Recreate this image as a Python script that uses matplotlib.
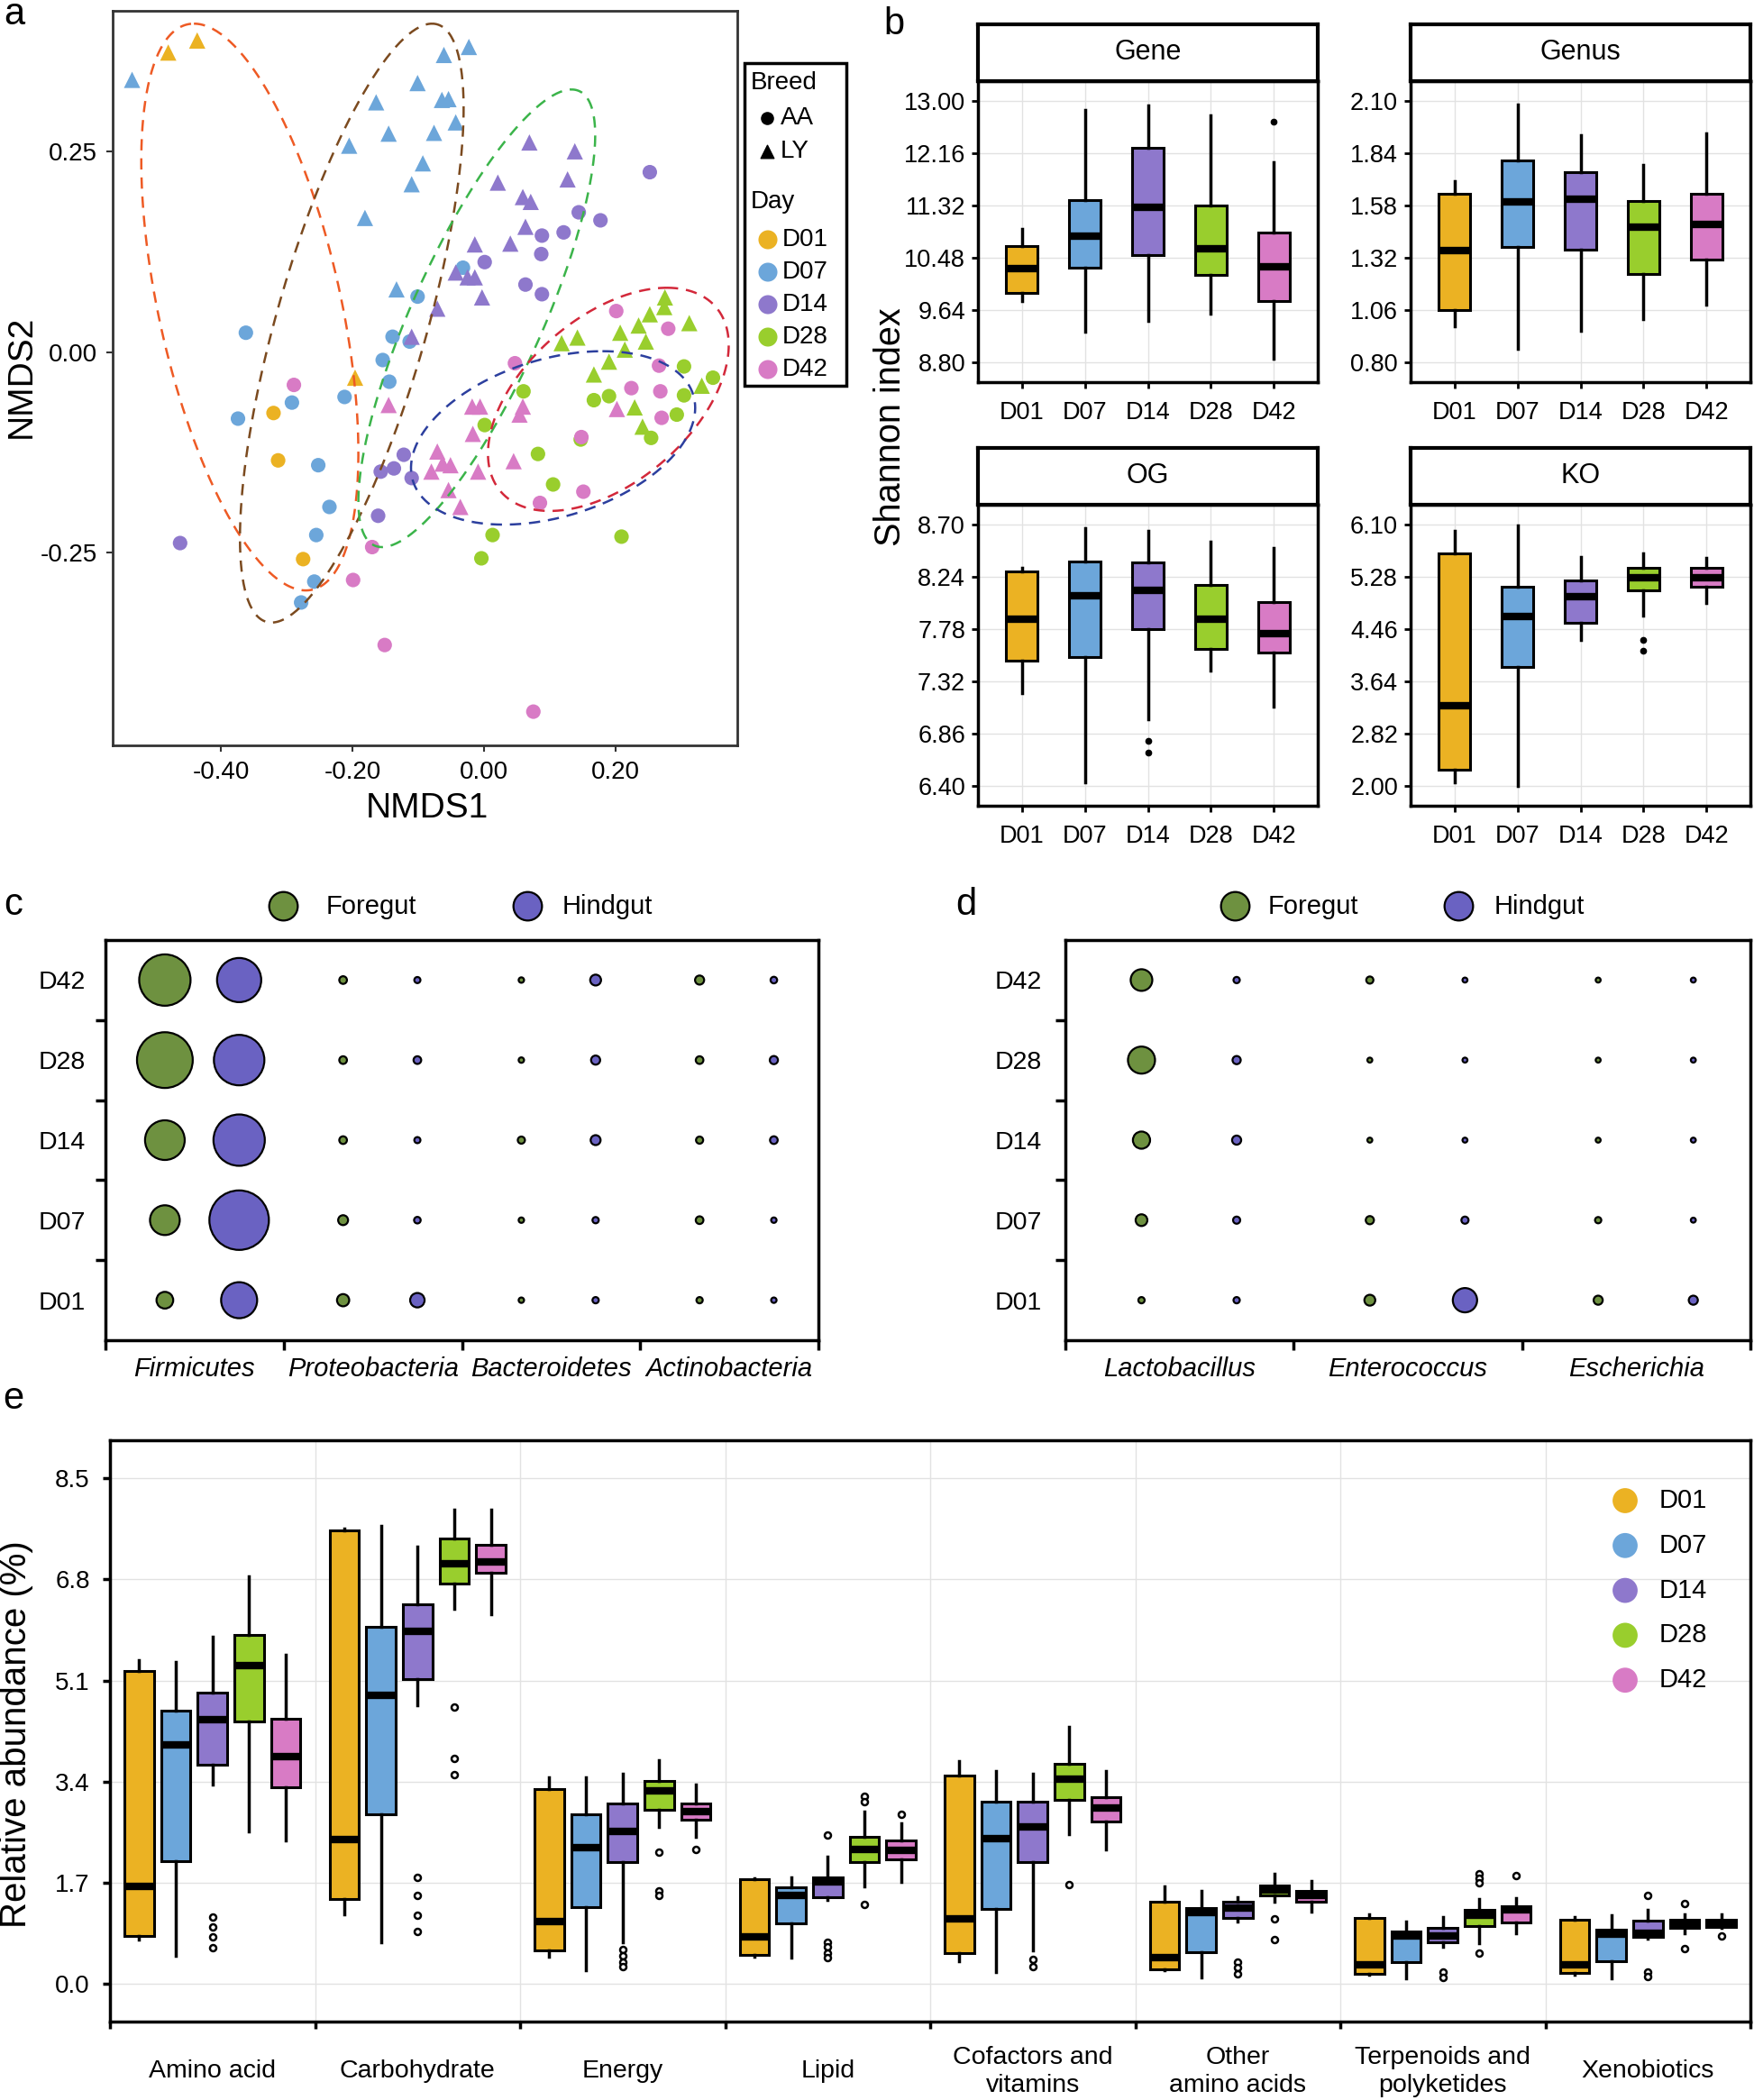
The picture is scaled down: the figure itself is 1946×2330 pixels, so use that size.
import matplotlib
matplotlib.use("Agg")
import matplotlib.pyplot as plt
import numpy as np
from matplotlib.patches import Rectangle

plt.rcParams['font.family'] = ['Liberation Sans', 'DejaVu Sans']

# ---------------- shared ----------------
days = ["D01", "D07", "D14", "D28", "D42"]
day_colors = ["#EBB223", "#6CA6DA", "#8E78CC", "#99CE2D", "#D87BC5"]

# ---------------- a: NMDS ----------------
D01_AA = [(-0.320, -0.076), (-0.313, -0.135), (-0.275, -0.258)]
D01_LY = [(-0.480, 0.373), (-0.436, 0.388), (-0.196, -0.032)]
D07_AA = [(-0.362, 0.024), (-0.374, -0.083), (-0.292, -0.063), (-0.252, -0.141), (-0.235, -0.193),
          (-0.255, -0.228), (-0.258, -0.286), (-0.278, -0.312), (-0.212, -0.056), (-0.154, -0.010),
          (-0.144, -0.037), (-0.139, 0.019), (-0.113, 0.013), (-0.101, 0.069), (-0.032, 0.105)]
D07_LY = [(-0.535, 0.339), (-0.164, 0.311), (-0.145, 0.272), (-0.205, 0.257), (-0.101, 0.335),
          (-0.061, 0.370), (-0.023, 0.380), (-0.064, 0.314), (-0.054, 0.315), (-0.043, 0.286),
          (-0.076, 0.273), (-0.093, 0.235), (-0.110, 0.209), (-0.181, 0.167), (-0.133, 0.078)]
D14_AA = [(0.252, 0.224), (0.144, 0.174), (0.177, 0.164), (0.121, 0.149), (0.088, 0.145),
          (0.087, 0.122), (0.001, 0.112), (0.063, 0.084), (0.088, 0.072), (-0.462, -0.238),
          (-0.161, -0.204), (-0.157, -0.149), (-0.137, -0.145), (-0.122, -0.128), (-0.110, -0.157)]
D14_LY = [(0.069, 0.261), (0.138, 0.250), (0.127, 0.215), (0.021, 0.211), (0.059, 0.193),
          (0.071, 0.187), (0.063, 0.156), (0.040, 0.135), (-0.014, 0.134), (-0.043, 0.099),
          (-0.025, 0.093), (-0.014, 0.093), (-0.003, 0.068), (-0.071, 0.054), (-0.110, 0.019)]
D28_AA = [(0.304, -0.018), (0.348, -0.032), (0.304, -0.054), (0.293, -0.078), (0.254, -0.107),
          (0.190, -0.055), (0.167, -0.060), (0.147, -0.109), (0.082, -0.127), (0.105, -0.165),
          (0.060, -0.049), (0.001, -0.091), (0.013, -0.228), (-0.004, -0.257), (0.209, -0.230)]
D28_LY = [(0.275, 0.068), (0.252, 0.047), (0.274, 0.056), (0.235, 0.033), (0.207, 0.024),
          (0.246, 0.013), (0.312, 0.036), (0.214, 0.003), (0.142, 0.018), (0.118, 0.011),
          (0.190, -0.012), (0.167, -0.028), (0.229, -0.069), (0.241, -0.093), (0.331, -0.042)]
D42_AA = [(0.201, 0.051), (0.280, 0.029), (0.266, -0.017), (0.224, -0.045), (0.268, -0.049),
          (0.270, -0.082), (0.148, -0.106), (0.151, -0.174), (0.085, -0.188), (0.047, -0.014),
          (-0.289, -0.041), (-0.170, -0.243), (-0.199, -0.284), (-0.151, -0.365), (0.075, -0.448)]
D42_LY = [(-0.145, -0.066), (-0.018, -0.068), (-0.006, -0.068), (0.059, -0.068), (0.054, -0.078),
          (-0.017, -0.102), (-0.071, -0.124), (-0.063, -0.139), (-0.051, -0.141), (-0.080, -0.149),
          (-0.009, -0.149), (0.045, -0.136), (-0.054, -0.172), (-0.036, -0.193), (0.202, -0.071)]
aa_groups = [D01_AA, D07_AA, D14_AA, D28_AA, D42_AA]
ly_groups = [D01_LY, D07_LY, D14_LY, D28_LY, D42_LY]

# confidence ellipses: centre, topmost point, half width (NMDS units)
ellipse_colors = ["#EE5A24", "#7B4A1F", "#3BB44A", "#D3283A", "#2C3F9E"]
ellipse_center = [(-0.356, 0.056), (-0.201, 0.036), (-0.011, 0.042), (0.189, -0.059), (0.105, -0.107)]
ellipse_top = [(-0.441, 0.409), (-0.079, 0.409), (0.133, 0.327), (0.278, 0.080), (0.180, 0.001)]
ellipse_halfwidth = [0.165, 0.170, 0.180, 0.183, 0.216]

# ---------------- b: Shannon index (lo, q1, med, q3, hi) ----------------
gene_box = [(9.78, 9.92, 10.31, 10.67, 10.94), (9.29, 10.32, 10.83, 11.41, 12.85),
            (9.47, 10.53, 11.29, 12.24, 12.93), (9.59, 10.21, 10.63, 11.32, 12.77),
            (8.86, 9.78, 10.33, 10.89, 12.02)]
gene_out = [[], [], [], [], [12.67]]
gene_ticks = [8.80, 9.64, 10.48, 11.32, 12.16, 13.00]

genus_box = [(0.981, 1.059, 1.354, 1.639, 1.699), (0.868, 1.372, 1.598, 1.805, 2.080),
             (0.958, 1.360, 1.609, 1.744, 1.927), (1.018, 1.241, 1.473, 1.603, 1.779),
             (1.089, 1.312, 1.485, 1.639, 1.937)]
genus_out = [[], [], [], [], []]
genus_ticks = [0.80, 1.06, 1.32, 1.58, 1.84, 2.10]

og_box = [(7.221, 7.501, 7.868, 8.284, 8.322), (6.435, 7.533, 8.074, 8.375, 8.665),
          (6.989, 7.778, 8.124, 8.367, 8.639), (7.415, 7.607, 7.868, 8.167, 8.545),
          (7.101, 7.575, 7.741, 8.020, 8.492)]
og_out = [[], [], [6.800, 6.696], [], []]
og_ticks = [6.40, 6.86, 7.32, 7.78, 8.24, 8.70]

ko_box = [(2.062, 2.262, 3.264, 5.639, 5.995), (2.000, 3.867, 4.651, 5.121, 6.086),
          (4.295, 4.556, 4.969, 5.221, 5.592), (4.665, 5.069, 5.269, 5.421, 5.644),
          (4.874, 5.121, 5.259, 5.416, 5.577)]
ko_out = [[], [], [], [4.285, 4.119], []]
ko_ticks = [2.00, 2.82, 3.64, 4.46, 5.28, 6.10]

# ---------------- c / d: bubble plots (relative abundance, %) ----------------
phyla = ["Firmicutes", "Proteobacteria", "Bacteroidetes", "Actinobacteria"]
# values in order D01, D07, D14, D28, D42
phyla_foregut = [[7.1, 22.5, 40, 79, 67], [3.8, 2.5, 1.5, 1.5, 1.5],
                 [0.74, 0.74, 1.3, 0.74, 0.74], [1.0, 1.5, 1.3, 1.5, 2.1]]
phyla_hindgut = [[33, 90, 67, 64.7, 49.6], [5.3, 1.1, 0.95, 1.5, 0.95],
                 [1.0, 1.0, 2.5, 2.1, 3.0], [0.74, 0.74, 1.5, 1.7, 1.1]]
genera = ["Lactobacillus", "Enterococcus", "Escherichia"]
genera_foregut = [[1.0, 3.5, 7.5, 18.6, 11.9], [3.0, 1.7, 0.62, 0.62, 1.3], [2.1, 1.0, 0.62, 0.62, 0.62]]
genera_hindgut = [[1.0, 1.3, 2.1, 1.7, 1.0], [15, 1.3, 0.62, 0.62, 0.62], [2.1, 0.62, 0.62, 0.62, 0.62]]
foregut_color = "#6E9140"
hindgut_color = "#6A62C2"

# ---------------- e: KEGG pathways (lo, q1, med, q3, hi) ----------------
pathways = ["Amino acid", "Carbohydrate", "Energy", "Lipid", "Cofactors and\nvitamins",
            "Other\namino acids", "Terpenoids and\npolyketides", "Xenobiotics"]
amino_box = [(0.75, 0.81, 1.64, 5.26, 5.45), (0.47, 2.07, 4.02, 4.59, 5.42), (3.35, 3.69, 4.44, 4.90, 5.84),
             (2.56, 4.42, 5.36, 5.87, 6.86), (2.41, 3.31, 3.83, 4.46, 5.54)]
amino_out = [[], [], [1.13, 0.96, 0.79, 0.61], [], []]
carb_box = [(1.17, 1.43, 2.43, 7.62, 7.65), (0.70, 2.86, 4.86, 6.01, 7.70), (4.68, 5.13, 5.93, 6.39, 7.35),
            (6.30, 6.73, 7.07, 7.49, 7.98), (6.21, 6.91, 7.10, 7.39, 7.98)]
carb_out = [[], [], [1.80, 1.49, 1.15, 0.89], [4.66, 3.80, 3.52], []]
energy_box = [(0.46, 0.56, 1.05, 3.28, 3.48), (0.23, 1.29, 2.29, 2.85, 3.48), (0.71, 2.05, 2.56, 3.03, 3.53),
              (2.64, 2.93, 3.25, 3.41, 3.77), (2.47, 2.76, 2.90, 3.04, 3.35)]
energy_out = [[], [], [0.58, 0.47, 0.37, 0.29], [2.22, 1.57, 1.49], [2.27]]
lipid_box = [(0.46, 0.49, 0.80, 1.76, 1.78), (0.44, 1.02, 1.49, 1.62, 1.80), (1.41, 1.46, 1.72, 1.80, 2.14),
             (1.64, 2.05, 2.26, 2.47, 2.90), (1.72, 2.10, 2.25, 2.41, 2.70)]
lipid_out = [[], [], [2.51, 0.71, 0.62, 0.52, 0.44], [3.16, 3.06, 1.34], [2.86]]
cofac_box = [(0.39, 0.52, 1.09, 3.50, 3.74), (0.21, 1.27, 2.44, 3.06, 3.58), (0.57, 2.05, 2.64, 3.06, 3.54),
             (2.52, 3.10, 3.45, 3.70, 4.32), (2.26, 2.73, 2.96, 3.14, 3.58)]
cofac_out = [[], [], [0.42, 0.29], [1.67], []]
other_box = [(0.23, 0.25, 0.44, 1.39, 1.64), (0.11, 0.54, 1.21, 1.28, 1.57), (1.05, 1.11, 1.28, 1.38, 1.46),
             (1.38, 1.49, 1.58, 1.66, 1.86), (1.22, 1.38, 1.49, 1.57, 1.74)]
other_out = [[], [], [0.37, 0.28, 0.18], [1.09, 0.75], []]
terp_box = [(0.16, 0.18, 0.33, 1.11, 1.17), (0.10, 0.37, 0.81, 0.89, 1.05), (0.63, 0.71, 0.81, 0.94, 1.13),
            (0.69, 0.97, 1.15, 1.25, 1.43), (0.86, 1.03, 1.25, 1.31, 1.44)]
terp_out = [[], [], [0.21, 0.11], [1.86, 1.78, 1.70, 0.52], [1.82]]
xeno_box = [(0.16, 0.19, 0.33, 1.08, 1.13), (0.10, 0.39, 0.84, 0.92, 1.15), (0.77, 0.79, 0.86, 1.07, 1.25),
            (0.86, 0.94, 1.02, 1.08, 1.18), (0.94, 0.96, 1.02, 1.08, 1.17)]
xeno_out = [[], [], [1.49, 0.21, 0.12], [1.36, 0.60], [0.81]]
e_boxes = [amino_box, carb_box, energy_box, lipid_box, cofac_box, other_box, terp_box, xeno_box]
e_outs = [amino_out, carb_out, energy_out, lipid_out, cofac_out, other_out, terp_out, xeno_out]
e_ticks = [0.0, 1.7, 3.4, 5.1, 6.8, 8.5]

# ======================================================================
W, H = 1946, 2330
fig = plt.figure(figsize=(W / 100, H / 100), dpi=100)


def add_ax(l, t, r, b):
    return fig.add_axes([l / W, 1 - b / H, (r - l) / W, (b - t) / H])


def make_stats(boxes, outs):
    return [dict(whislo=b[0], q1=b[1], med=b[2], q3=b[3], whishi=b[4], fliers=o)
            for b, o in zip(boxes, outs)]


# ---------------- panel a ----------------
axa = add_ax(125, 12, 818, 827)
t = np.linspace(0, 2 * np.pi, 300)
for c, top, hw, col in zip(ellipse_center, ellipse_top, ellipse_halfwidth, ellipse_colors):
    ax_, ay_ = top[0] - c[0], top[1] - c[1]
    bx_ = np.sqrt(hw ** 2 - ax_ ** 2)
    ex = c[0] + ax_ * np.cos(t) + bx_ * np.sin(t)
    ey = c[1] + ay_ * np.cos(t)
    axa.plot(ex, ey, color=col, lw=1.8, ls=(0, (5, 3.5)), zorder=3)
for pts_aa, pts_ly, col in zip(aa_groups, ly_groups, day_colors):
    x, y = zip(*pts_aa)
    axa.scatter(x, y, s=135, c=col, marker='o', edgecolors='none', zorder=2)
    x, y = zip(*pts_ly)
    axa.scatter(x, y, s=170, c=col, marker='^', edgecolors='none', zorder=2)
axa.set_xlim(-0.5645, 0.385)
axa.set_ylim(-0.49, 0.425)
axa.set_xticks([-0.4, -0.2, 0.0, 0.2])
axa.set_xticklabels(["-0.40", "-0.20", "0.00", "0.20"])
axa.set_yticks([-0.25, 0.0, 0.25])
axa.set_yticklabels(["-0.25", "0.00", "0.25"])
for s in axa.spines.values():
    s.set_color("#333333")
    s.set_linewidth(2)
axa.tick_params(labelsize=20, length=5, width=1.5, color="#333333", pad=7)

# ---------------- panel b ----------------
facets = [("Gene", gene_box, gene_out, gene_ticks, (1085, 27, 1462, 90, 424)),
          ("Genus", genus_box, genus_out, genus_ticks, (1565, 27, 1942, 90, 424)),
          ("OG", og_box, og_out, og_ticks, (1085, 497, 1462, 560, 894)),
          ("KO", ko_box, ko_out, ko_ticks, (1565, 497, 1942, 560, 894))]
for title, boxes, outs, ticks, (l, st, r, pt, pb) in facets:
    ax = add_ax(l, pt, r, pb)
    bp = ax.bxp(make_stats(boxes, outs), positions=range(1, 6), widths=0.5, patch_artist=True,
                showcaps=False, boxprops=dict(linewidth=2.2, edgecolor="black"),
                whiskerprops=dict(linewidth=2.5, color="black"),
                medianprops=dict(color="black", linewidth=6, solid_capstyle="butt"),
                flierprops=dict(marker='o', markerfacecolor='black', markeredgecolor='black', markersize=4.5))
    for patch, col in zip(bp['boxes'], day_colors):
        patch.set_facecolor(col)
    span = ticks[-1] - ticks[0]
    ax.set_ylim(ticks[0] - 0.075 * span, ticks[-1] + 0.075 * span)
    ax.set_xlim(0.3, 5.7)
    ax.set_yticks(ticks)
    ax.set_yticklabels([f"{v:.2f}" for v in ticks])
    ax.set_xticks(range(1, 6))
    ax.set_xticklabels(days)
    ax.grid(True, color="#E2E2E2", lw=1)
    ax.set_axisbelow(True)
    for s in ax.spines.values():
        s.set_linewidth(2.5)
    ax.tick_params(labelsize=19.5, length=5, width=2)
    ax.tick_params(axis='x', pad=10)
    ax.tick_params(axis='y', pad=5)
    sax = add_ax(l, st, r, pt)
    sax.set_xticks([])
    sax.set_yticks([])
    for s in sax.spines.values():
        s.set_linewidth(3)
    sax.text(0.5, 0.5, title, ha='center', va='center', fontsize=22, transform=sax.transAxes)


# ---------------- panels c, d ----------------
def bubble(l, t, r, b, cats, fore, hind, ypad, xpad):
    ax = add_ax(l, t, r, b)
    rows = np.arange(1, 6)
    for i, (fv, hv) in enumerate(zip(fore, hind)):
        ax.scatter(np.full(5, i + 1 / 3), rows, s=np.array(fv) * 25.1, c=foregut_color,
                   edgecolors='black', linewidths=1.6, zorder=3)
        ax.scatter(np.full(5, i + 0.75), rows, s=np.array(hv) * 25.1, c=hindgut_color,
                   edgecolors='black', linewidths=1.6, zorder=3)
    ax.set_xlim(0, len(cats))
    ax.set_ylim(0.5, 5.5)
    ax.set_xticks(range(len(cats) + 1))
    ax.set_xticklabels([])
    ax.set_xticks(np.arange(len(cats)) + 0.5, minor=True)
    ax.set_xticklabels(cats, minor=True, fontstyle='italic', fontsize=21)
    ax.set_yticks([1.5, 2.5, 3.5, 4.5])
    ax.set_yticklabels([])
    ax.set_yticks(rows, minor=True)
    ax.set_yticklabels(days, minor=True, fontsize=20.5)
    ax.tick_params(which='major', length=8, width=2.5)
    ax.tick_params(which='minor', length=0)
    ax.tick_params(axis='y', which='minor', pad=ypad)
    ax.tick_params(axis='x', which='minor', pad=xpad)
    for s in ax.spines.values():
        s.set_linewidth(2.5)
    return ax


bubble(117, 1043, 908, 1487, phyla, phyla_foregut, phyla_hindgut, 16, 13)
bubble(1182, 1043, 1942, 1487, genera, genera_foregut, genera_hindgut, 19, 13)

# ---------------- panel e ----------------
axe = add_ax(122, 1598, 1942, 2243)
offsets = (np.arange(5) - 2) * 0.179
for k, col in enumerate(day_colors):
    stats = make_stats([bx[k] for bx in e_boxes], [o[k] for o in e_outs])
    bp = axe.bxp(stats, positions=np.arange(1, 9) + offsets[k], widths=0.143, patch_artist=True,
                 showcaps=False, boxprops=dict(linewidth=2.2, edgecolor="black"),
                 whiskerprops=dict(linewidth=2.5, color="black"),
                 medianprops=dict(color="black", linewidth=6, solid_capstyle="butt"),
                 flierprops=dict(marker='o', markerfacecolor='white', markeredgecolor='black',
                                 markersize=5, markeredgewidth=1.8))
    for patch in bp['boxes']:
        patch.set_facecolor(col)
axe.set_xlim(0.5, 8.5)
axe.set_ylim(-0.63, 9.14)
axe.set_yticks(e_ticks)
axe.set_yticklabels([f"{v:.1f}" for v in e_ticks])
axe.set_xticks(np.arange(0.5, 9.0, 1.0))
axe.set_xticklabels([])
axe.grid(True, color="#E2E2E2", lw=1)
axe.set_axisbelow(True)
for s in axe.spines.values():
    s.set_linewidth(2.5)
axe.tick_params(labelsize=20, length=6, width=2.5)
axe.tick_params(axis='y', pad=10)
for i, name in enumerate(pathways):
    axe.text(i + 1, -0.086, name, transform=axe.get_xaxis_transform(), ha='center', va='center',
             fontsize=20.5, linespacing=1.25)

# ---------------- overlay: labels, legends ----------------
ov = fig.add_axes([0, 0, 1, 1])
ov.set_xlim(0, W)
ov.set_ylim(H, 0)
ov.axis('off')

for letter, x, y in [("a", 16, 16), ("b", 992, 27), ("c", 15, 1004), ("d", 1072, 1004), ("e", 15, 1552)]:
    ov.text(x, y, letter, fontsize=30, ha='center', va='center')

ov.text(474, 897, "NMDS1", fontsize=28, ha='center', va='center')
ov.text(24, 418, "NMDS2", fontsize=28, ha='center', va='center', rotation=90)
ov.text(988, 474, "Shannon index", fontsize=28.5, ha='center', va='center', rotation=90)
ov.text(18, 1924, "Relative abundance (%)", fontsize=29, ha='center', va='center', rotation=90)

# legend a
ov.add_patch(Rectangle((826, 70), 113, 358, fill=False, lw=2.5, ec='black'))
ov.text(833, 92, "Breed", fontsize=20, va='center')
ov.scatter([851], [131], s=90, c='black', marker='o')
ov.text(866, 131, "AA", fontsize=20, va='center')
ov.scatter([851], [168], s=110, c='black', marker='^')
ov.text(866, 168, "LY", fontsize=20, va='center')
ov.text(833, 224, "Day", fontsize=20, va='center')
for k, (d, col) in enumerate(zip(days, day_colors)):
    yy = 266 + k * 36
    ov.scatter([852], [yy], s=230, c=col, marker='o', edgecolors='none')
    ov.text(868, yy, d, fontsize=20, va='center')

# legends c, d
for cx, tx, col, lab in [(314, 362, foregut_color, "Foregut"), (585, 624, hindgut_color, "Hindgut"),
                         (1370, 1407, foregut_color, "Foregut"), (1618, 1658, hindgut_color, "Hindgut")]:
    ov.scatter([cx], [1005], s=520, c=col, edgecolors='black', linewidths=1.6)
    ov.text(tx, 1006, lab, fontsize=21, va='center')

# legend e
for k, (d, col) in enumerate(zip(days, day_colors)):
    yy = 1665 + k * 49.8
    ov.scatter([1803], [yy], s=400, c=col, edgecolors='none')
    ov.text(1841, yy, d, fontsize=21, va='center')

fig.savefig("out.png", dpi=100)
